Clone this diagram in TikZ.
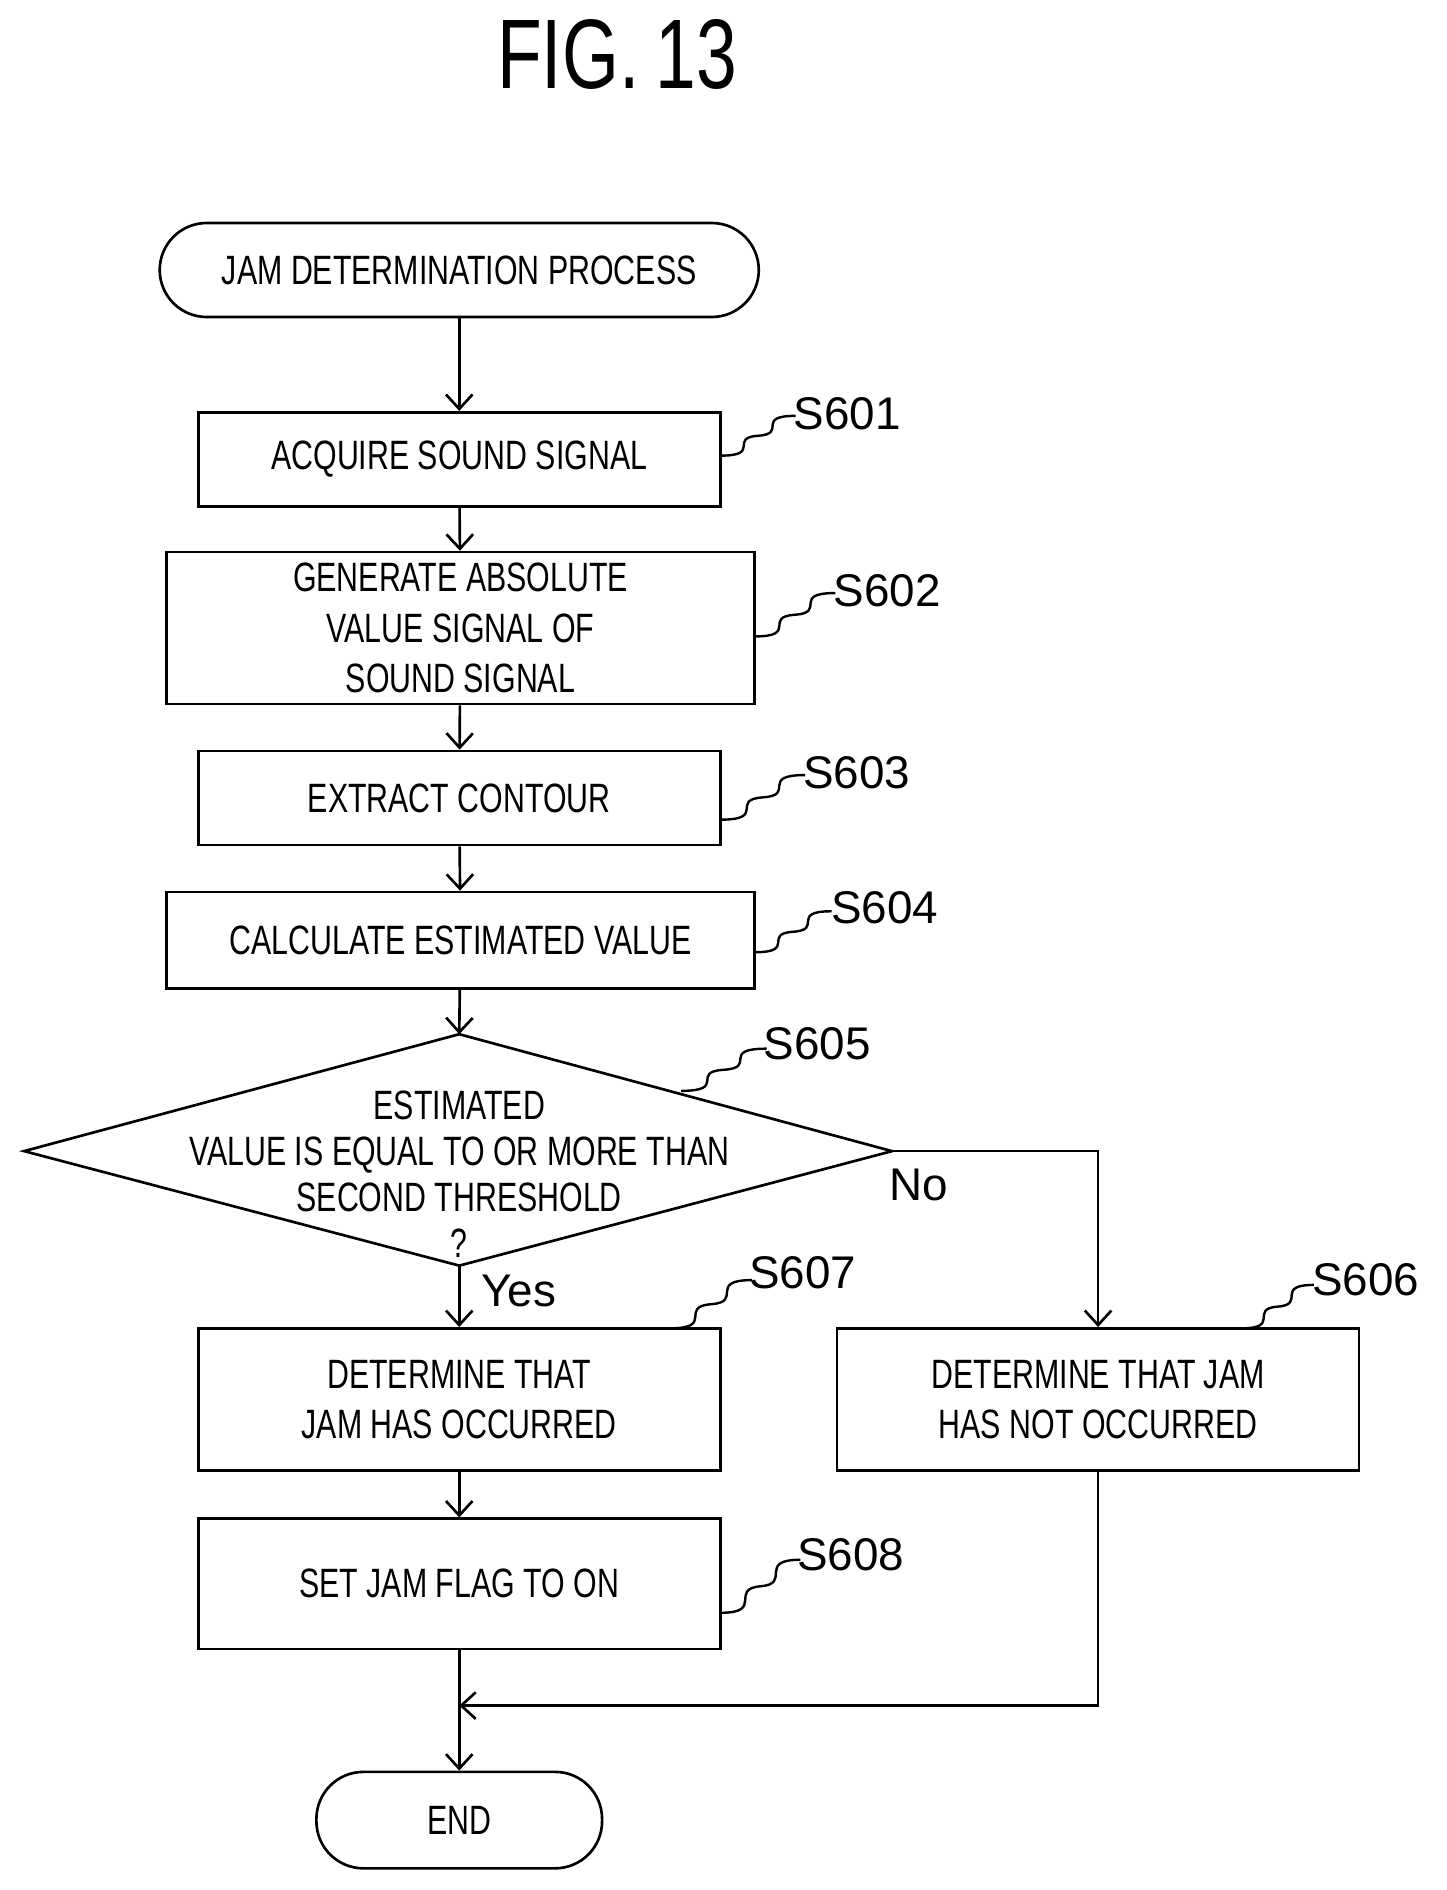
\documentclass[tikz,border=0pt]{standalone}
\usepackage{fontspec}
\setmainfont{Liberation Sans}
\newfontfamily\cond[FakeStretch=0.74]{Liberation Sans}
\usetikzlibrary{shapes.geometric,arrows.meta}
\begin{document}
\begin{tikzpicture}[x=1pt,y=-1pt,
 box/.style={draw,line width=2.2pt,inner sep=0pt,align=center,font=\cond\fontsize{34}{42}\selectfont},
 term/.style={box,rounded corners=39pt},
 lab/.style={font=\fontsize{38}{40}\selectfont,anchor=west},
 arr/.style={line width=2.2pt,-{Straight Barb[length=12pt,width=22pt]}},
 sq/.style={line width=2pt}]
\useasboundingbox (0,0) rectangle (1200,1568);
\node[font=\cond\fontsize{82}{82}\selectfont] (title) at (512,45) {FIG.\,13};
\node[term,minimum width=497pt,minimum height=78pt] (start) at (381,224) {JAM DETERMINATION PROCESS};
\node[box,minimum width=433pt,minimum height=78pt] (s601) at (381,381) {ACQUIRE SOUND SIGNAL};
\node[box,minimum width=488pt,minimum height=126pt] (s602) at (382,521) {GENERATE ABSOLUTE\\VALUE SIGNAL OF\\SOUND SIGNAL};
\node[box,minimum width=433pt,minimum height=78pt] (s603) at (381,662) {EXTRACT CONTOUR};
\node[box,minimum width=488pt,minimum height=80pt] (s604) at (382,780) {CALCULATE ESTIMATED VALUE};
\coordinate (dt) at (381,858); \coordinate (dl) at (20,955);
\coordinate (dr) at (740,955); \coordinate (db) at (381,1050);
\draw[line width=2.2pt] (dt) -- (dr) -- (db) -- (dl) -- cycle;
\node[font=\cond\fontsize{34}{38}\selectfont,align=center] (d) at (381,974) {ESTIMATED\\VALUE IS EQUAL TO OR MORE THAN\\SECOND THRESHOLD\\?};
\node[box,minimum width=433pt,minimum height=118pt] (s607) at (381,1161) {DETERMINE THAT\\JAM HAS OCCURRED};
\node[box,minimum width=433pt,minimum height=118pt] (s606) at (911,1161) {DETERMINE THAT JAM\\HAS NOT OCCURRED};
\node[box,minimum width=433pt,minimum height=108pt] (s608) at (381,1314) {SET JAM FLAG TO ON};
\node[term,minimum width=237pt,minimum height=80pt] (end) at (381,1510) {END};
\draw[arr] (start) -- (s601);
\draw[arr] (s601) -- (s602);
\draw[arr] (s602) -- (s603);
\draw[arr] (s603) -- (s604);
\draw[arr] (s604) -- (dt);
\draw[arr] (db) -- (s607);
\draw[arr] (dr) -| (s606);
\draw[arr] (s607) -- (s608);
\draw[arr] (s608) -- (end);
\coordinate (m) at (381,1415);
\draw[arr] (s606.south) |- (m);
\node[lab] (yes) at (396,1071) {Yes};
\node[lab] (no) at (734,983) {No};
\node[lab] (l1) at (655,343) {S601};
\node[lab] (l2) at (688,490) {S602};
\node[lab] (l3) at (663,641) {S603};
\node[lab] (l4) at (686,753) {S604};
\node[lab] (l5) at (630,866) {S605};
\node[lab] (l7) at (618,1056) {S607};
\node[lab] (l6) at (1085,1062) {S606};
\node[lab] (l8) at (658,1290) {S608};
\foreach \a/\b in {598/378/660/345, 626/528/693/492, 598/680/668/643, 626/790/690/756, 565/905/636/870, 556/1102/626/1060, 1030/1102/1090/1066, 598/1338/664/1292}{}
\def\sqg#1#2#3#4{\draw[sq] (#1,#2) .. controls ({#1+0.55*(#3-#1)},#2) and ({#1+0.1*(#3-#1)},{#2+0.45*(#4-#2)}) .. ({#1+0.5*(#3-#1)},{#2+0.5*(#4-#2)}) .. controls ({#1+0.9*(#3-#1)},{#2+0.55*(#4-#2)}) and ({#1+0.45*(#3-#1)},#4) .. (#3,#4);}
\sqg{598}{378}{660}{345}
\sqg{626}{528}{693}{492}
\sqg{598}{680}{668}{643}
\sqg{626}{790}{690}{756}
\sqg{565}{905}{636}{870}
\sqg{556}{1102}{624}{1062}
\sqg{1030}{1102}{1090}{1066}
\sqg{598}{1338}{664}{1294}
\end{tikzpicture}
\end{document}
